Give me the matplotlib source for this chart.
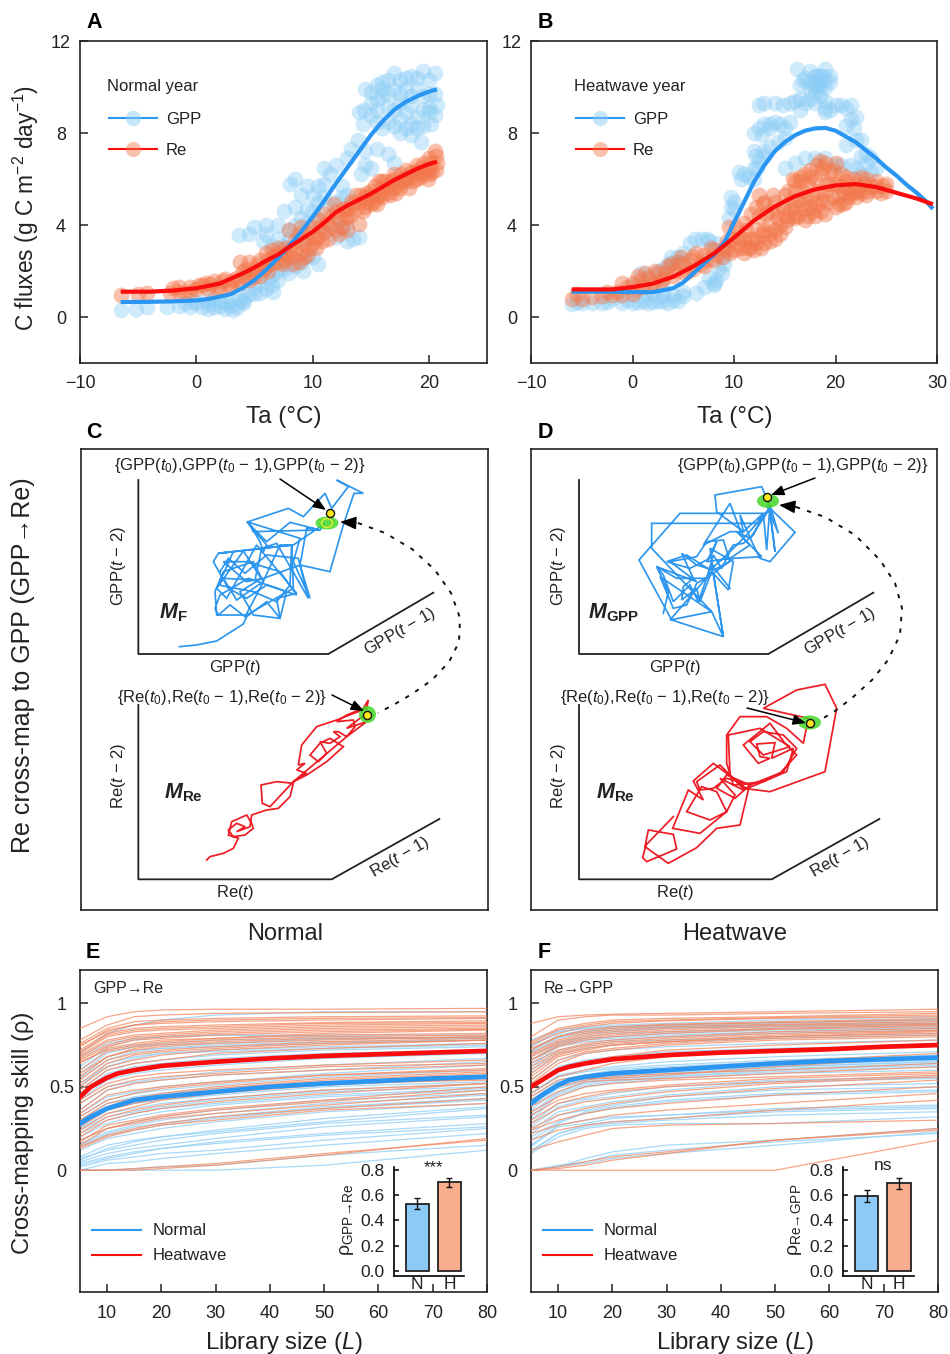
import numpy as np
import matplotlib
matplotlib.use("Agg")
import matplotlib.pyplot as plt
from matplotlib.lines import Line2D
from matplotlib.patches import Ellipse

plt.rcParams["font.family"] = ["Liberation Sans", "DejaVu Sans"]
plt.rcParams["mathtext.fontset"] = "custom"
plt.rcParams["mathtext.rm"] = "Liberation Sans"
plt.rcParams["mathtext.it"] = "Liberation Sans:italic"
plt.rcParams["mathtext.bf"] = "Liberation Sans:bold:italic"
plt.rcParams["mathtext.sf"] = "Liberation Sans:bold"
plt.rcParams["text.color"] = "#222222"
plt.rcParams["axes.labelcolor"] = "#222222"
plt.rcParams["xtick.labelcolor"] = "#222222"
plt.rcParams["ytick.labelcolor"] = "#222222"

W, H = 950, 1354

# panel A
a_gpp_pts = [(14.5,9.9),(15,9.8),(15.5,10.1),(16,10.2),(16.5,10.3),(17,10.6),(17.5,10.3),(18,10.4),(18.5,10.5),
             (19,10.4),(19.5,10.7),(20,10.3),(20.5,10.6),(15,9.3),(16,9.6),(17,9.9),(18,9.9),(19,9.9),(20,9.7),
             (20.7,9.2),(20.5,8.8),(19.5,9.0),(18.5,9.2),(17.5,9.3),(16.5,9.1),(15.5,9.0),(14.4,9.0),(14,8.9),
             (14.3,8.4),(15.5,8.5),(16.5,8.5),(17.5,8.6),(18.5,8.4),(19.5,8.3),(20.2,8.4),(17.5,8.0),(18.5,7.9),
             (19.3,7.6),(13.9,7.7),(13.3,7.3),(14.5,7.2),(15.5,7.3),(16.5,7.1),(17,6.7),(13,6.9),(14.5,6.6),
             (14.2,6.2),(15,6.5),(11,6.5),(12,6.6),(11.5,6.2),(12.5,5.7),(8.5,6.0),(8.1,5.8),(9.5,5.7),(10.5,5.7),
             (11,5.8),(13,5.3),(9,5.3),(10,5.3),(11,5.2),(8.5,4.8),(9.5,4.7),(12,5.0),(7.5,4.6),(9,4.3),(7,4.0),
             (6,4.0),(5,3.9),(3.7,3.55),(4.5,3.6),(6,3.6),(7,3.4),(8,3.8),(13.5,3.4),(14,3.5),(13,3.3),(12,3.5),
             (9,3.3),(10.5,2.3),(10,2.6),(9.2,2.0),(8,1.9),(7.5,2.1),(6.5,1.4),(6.6,1.1),(6.5,1.8),(5,1.3),(5,1.0),
             (4,0.7),(-6.5,0.3),(-5.2,0.35),(-4.2,0.45),(-2.5,0.45),(-1.5,0.5),(-0.5,0.45),(0.5,0.45),(1,0.55),
             (1.5,0.45),(2.5,0.35),(3,0.5),(3.5,0.45),(4,0.6),(4.2,0.85),(3,0.75),(2,0.7),(0,0.6),
             (16,9.9),(16.5,9.7),(17.5,9.7),(18.5,9.6),(19.5,9.6),(20,9.1),(17,9.0),(18,8.9),(19,8.7),(20,8.9),
             (16,8.2),(17,8.3),(18,8.2),(19,8.2),(20.5,9.7),(15,8.8),(15.5,9.5),(2,0.5),(1,0.35),(-1,0.6),(-0.2,0.7),
             (0.8,0.75),(1.5,0.8),(2.6,0.6),(3.2,0.3),(3.7,0.75),(4.5,1.0),(5.5,1.05),(6,1.2),(5.5,1.5),(6.2,1.7),
             (6,2.2),(7,1.6),(7,2.0),(8.5,2.2),(9,2.4),(9.5,2.6),(8,2.3),(5.7,3.3),(6.5,3.1),(7.5,3.1),(8,3.4),(8.5,4.0),
             (9.5,4.1),(10,4.6),(10.5,4.3),(11,3.7),(12,4.1),(12.5,3.9),(13,3.9),(11.5,4.8),(12.5,5.2),(10.5,5.0)]
a_re_pts = [(-6.5,0.95),(-5,1.0),(-4.2,1.05),(-2.3,1.05),(-2,1.25),(-1.5,1.3),(-1,1.05),(-0.5,1.3),(0,1.2),(0.5,1.4),
            (1,1.2),(1.5,1.55),(2,1.3),(2.5,1.65),(3,1.4),(3.5,1.7),(4,2.0),(3.8,2.4),(4.5,2.4),(4.5,1.6),(5,2.1),
            (5.5,2.5),(5.5,1.8),(6,2.8),(6,2.2),(6.5,2.9),(6.5,2.3),(7,3.0),(7,2.4),(7.5,2.5),(8,2.9),(8,3.8),(9,3.9),
            (8.5,3.3),(9,2.8),(9.5,2.7),(9.5,3.4),(10,3.2),(10,3.9),(10.5,3.5),(10.5,4.2),(11,4.5),(11,3.7),(12,4.6),
            (12,3.8),(12.5,3.9),(13,3.8),(13,4.7),(13.5,4.9),(14,5.0),(14,4.05),(14.5,4.8),(15,4.9),(15.5,5.2),(15,5.5),
            (15.7,5.9),(16,5.6),(16.5,5.4),(17,5.6),(17,6.0),(17.5,5.6),(18,6.4),(18,5.9),(18.5,6.3),(19,6.0),(19,6.6),
            (19.5,6.2),(20,6.9),(20,6.4),(20.5,7.2),(20.7,6.7),(20,6.2),
            (-1.5,1.1),(-0.5,1.1),(0.2,1.4),(0.8,1.5),(1.2,1.45),(1.8,1.25),(2.2,1.55),(2.8,1.35),(3.2,1.6),(3.8,1.5),
            (4.2,1.75),(4.8,1.9),(5.2,2.3),(5.8,2.1),(6.2,2.5),(6.8,2.7),(7.2,2.8),(7.8,2.7),(8.2,2.6),(8.5,3.0),(8.8,3.6),
            (9.2,3.2),(9.8,3.0),(10.2,3.5),(10.8,3.3),(11.2,4.1),(11.5,3.9),(11.8,4.9),(12.2,4.3),(12.8,4.3),(13.2,4.4),
            (13.8,4.7),(14.2,5.3),(14.8,5.0),(15.2,5.3),(15.5,4.9),(15.8,5.3),(16.2,5.9),(16.8,5.9),(17.3,5.8),(17.6,6.2),
            (18.2,6.1),(18.8,6.3),(19.2,6.5),(19.8,6.5),(20.2,6.7),(20.6,6.4),
            (4.3,2.1),(5,1.75),(6.2,2.0),(6.6,2.6),(7.4,2.3),(7.6,3.0),(8.3,2.3),(8.8,2.4),(9.3,2.6),(9.7,3.7),(10.3,3.0),
            (10.7,3.9),(11.3,3.4),(11.6,4.4),(12.3,3.6),(12.6,4.7),(13.3,5.0),(13.7,5.3),(14.3,4.6),(14.7,5.4),(15.3,5.0),
            (15.4,5.7),(16,5.2),(16.4,5.7),(16.7,5.3),(17.2,5.4),(17.7,5.9),(18.3,5.6),(18.6,5.9),(19.2,6.1),(19.6,6.7),
            (19.9,6.0),(20.3,6.3),(20.6,7.0),(16,5.9),(17,6.2),(18,6.1),(19,6.3),(14.5,5.2),(13,4.4)]
a_gpp_x = [-6.5,-4,-2,0,1,2,3,4,5,6,7,8,9,10,11,12,13,14,15,16,17,18,19,20,20.7]
a_gpp_y = [.65,.66,.68,.72,.78,.88,1.0,1.27,1.6,2.05,2.55,3.1,3.7,4.35,5.05,5.8,6.5,7.2,7.9,8.5,9.0,9.35,9.6,9.8,9.9]
a_re_x = [-6.5,-4,-2,0,2,4,5,6,7,8,9,10,11,12,13,14,15,16,17,18,19,20,20.7]
a_re_y = [1.1,1.1,1.15,1.25,1.45,1.9,2.15,2.45,2.7,3.05,3.37,3.7,4.1,4.55,4.85,5.1,5.35,5.65,5.95,6.2,6.45,6.65,6.75]

# panel B
b_gpp_pts = [(-6,.55),(-5,.6),(-3,.6),(-1,.6),(0,.6),(1,.7),(2,.65),(3,.7),(3.5,.6),(4,.75),(5,.9),(6.3,1.05),(7,1.3),
             (8,1.5),(8.2,1.6),(8.8,1.9),(9,2.3),(-2,.8),(0,1.4),(.8,1.9),(1.5,1.8),(2.5,2.0),(3,2.1),(4,2.4),(4.5,2.6),
             (5,2.4),(5.7,3.2),(6.8,3.4),(7.5,3.3),(8.2,3.2),(9,3.0),(9.7,4.8),(9.7,5.2),(10,4.7),(10.5,6.3),(11,6.2),
             (12,6.0),(12,6.5),(12.3,6.5),(12.2,7.0),(12.5,6.8),(13,7.2),(12,8.0),(12.5,8.2),(13,8.4),(13.5,8.4),(14,8.5),
             (14.5,8.4),(15.5,8.5),(14.3,7.6),(15,7.8),(12.5,9.2),(14,9.3),(15.5,9.3),(16,9.4),(16.5,9.5),(17,9.3),(18,9.3),
             (19,9.4),(20,9.2),(21,9.1),(21.5,9.2),(22,8.7),(19,8.9),(19.5,9.0),(16.2,10.8),(17,10.4),(16.5,10.1),(17.5,10.7),
             (18,10.5),(18.3,10.2),(18.5,10.0),(19,10.8),(19.5,10.5),(18,9.8),(17.5,9.9),(19,10.3),(18.5,10.5),(18.2,10.5),
             (21,8.3),(21.8,8.2),(22,7.7),(21,7.5),(22.5,7.7),(23,7.1),(23.5,6.9),(24,6.5),(20.5,6.6),(22,6.5),(17,6.9),
             (16,6.7),(15,6.5),
             (-5.5,.65),(-4,.6),(-2.5,.65),(-.5,.75),(.5,.65),(1.5,.6),(2.5,.7),(3,.9),(4,.95),(4.5,.7),(5,1.1),(1.2,1.0),
             (2,1.0),(3,1.2),(3.5,2.3),(3.8,2.6),(5,2.8),(6.2,3.4),(7.5,1.7),(7.3,3.4),(8,1.4),(9,2.6),(8.5,2.1),(9.5,4.3),
             (10,5.0),(10.7,6.0),(11.5,6.1),(12,7.2),(13,7.0),(13.5,7.4),(12.8,7.9),(13.5,8.2),(15,8.2),(13,9.3),(14.8,9.2),
             (16.5,9.0),(17.5,9.5),(18.5,9.6),(19,9.1),(20.5,9.2),(21.5,8.6),(16.8,10.3),(17.5,10.2),(18,10.1),(18.5,10.2),
             (19,10.0),(19.5,10.2),(18.8,10.5),(18.2,10),(22.5,7.0),(23,6.7),(23.5,6.3),(21.5,6.6),(22.5,6.2),(18,6.9),(19,6.9),(20,6.6)]
b_re_pts = [(-6,.8),(-5,.8),(-3,.9),(-2,.95),(-1,.95),(0,1.0),(-1,1.5),(0,1.5),(.5,1.8),(1,1.3),(1.5,1.7),(2,1.5),(2.5,1.9),
            (3,1.65),(3.5,2.2),(4,1.8),(4.5,2.4),(5,2.3),(5.5,2.0),(6,2.6),(6,2.1),(7,2.7),(7,2.2),(8,2.9),(8,2.5),(9,3.0),
            (9.5,3.9),(10,2.9),(11,2.8),(12,2.9),(10.5,3.5),(11.5,3.4),(12.5,4.4),(13,3.2),(13.5,3.3),(14,3.4),(14.5,3.6),
            (14.5,4.0),(13,3.8),(13,5.0),(14,5.0),(12.5,5.3),(15,4.4),(15,5.3),(16,4.3),(16,5.5),(16.5,5.9),(17,4.2),(17,6.2),
            (17.5,6.4),(18,4.4),(18,5.0),(18,6.0),(18.5,6.8),(19,6.7),(19,4.5),(19,5.5),(19.5,6.3),(20,4.8),(20,5.8),(20,6.7),
            (21,5.0),(21,5.6),(21,6.1),(22,5.2),(22,5.8),(22.5,6.1),(23,5.3),(23,6.0),(24,5.5),(24,5.9),(25,5.5),(25,5.8),
            (16,4.8),(17.5,4.8),(15.5,5.0),
            (-5.5,1),(-4,.85),(-2.5,1.1),(-1.5,1.1),(-.5,1.3),(.3,1.2),(.8,1.6),(1.2,1.9),(1.8,1.35),(2.2,2),(2.8,1.55),
            (3.2,1.9),(3.8,2.3),(4.2,2.0),(4.8,2.6),(5.2,1.9),(5.8,2.5),(6.3,2.8),(6.7,2.3),(7.3,2.5),(7.7,3.0),(8.3,2.7),
            (8.8,2.6),(9.3,3.3),(9.6,2.8),(10.2,3.9),(10.6,3.0),(11,4.1),(11.3,3.0),(11.7,4.5),(12,3.4),(12.3,3.8),(12.7,3.0),
            (13.2,4.5),(13.5,4.0),(13.8,5.3),(14.2,4.6),(14.8,4.8),(15,3.9),(15.5,4.6),(15.3,5.5),(15.8,6.0),(16.3,5.1),
            (16.8,5.5),(17,4.7),(17.3,5.8),(17.7,5.3),(18.3,5.5),(18.6,4.6),(18.6,6.2),(19.3,5.0),(19.5,5.8),(20.3,5.3),
            (20.5,6.2),(20.7,4.9),(21.5,5.4),(21.8,6.0),(22.3,5.5),(22.8,5.8),(23.5,5.7),(24.5,5.4),
            (9.2,2.9),(9.8,3.4),(10.4,3.2),(11,3.4),(11.6,3.0),(12.2,3.2),(12.8,3.6),(13.4,3.6),(14,3.8),(14.3,4.3),(13.6,4.6),
            (12.9,4.9),(12.2,4.8),(11.2,3.8),(15.2,4.2),(15.8,4.4),(16.3,4.4),(16.7,4.9),(17.3,4.4),(17.8,4.6),(18.3,4.9),
            (18.8,5.1),(19.2,5.8),(19.7,5.2),(20.3,4.9),(20.4,5.7),(20.8,5.4),(21.3,5.2),(21.8,5.5),(22.5,5.4),(23.2,5.5),
            (24,5.7),(16.5,6.1),(17.5,6.1),(18.2,6.6),(18.8,6.5),(19.8,6.4),(16,5.9),(17,5.2),(21,5.9),(24.7,5.7)]
b_gpp_x = [-6,-4,-2,0,2,4,5,6,7,8,9,10,11,12,13,14,15,16,17,18,19,20,21,22,23,24,25,26,27,28,29,29.6]
b_gpp_y = [1.1,1.1,1.1,1.08,1.08,1.25,1.5,1.9,2.3,2.7,3.2,4.1,5.0,5.9,6.6,7.2,7.6,7.9,8.1,8.2,8.22,8.1,7.85,7.6,7.25,6.9,6.5,6.15,5.75,5.4,5.0,4.7]
b_re_x = [-6,-2,0,2,4,6,8,9,10,12,14,16,18,20,22,24,26,28,29.6]
b_re_y = [1.2,1.2,1.3,1.45,1.75,2.2,2.75,3.1,3.45,4.2,4.8,5.25,5.55,5.72,5.78,5.65,5.4,5.15,4.9]

# panels C and D, traced in crop coordinates (3x, origin at the top left of the crop)
mf_path = [(298,605),(350,600),(410,588),(490,537),(500,515),(560,470),(600,520),(620,440),(505,400),(420,450),(405,490),
           (415,510),(450,480),(495,515),(540,430),(600,300),(635,300),(630,420),(590,470),(520,440),(415,420),(460,320),
           (415,325),(400,350),(445,430),(500,460),(560,420),(650,450),(600,380),(500,350),(430,350),(500,410),(550,400),
           (660,360),(690,460),(640,350),(660,280),(500,230),(560,300),(550,320),(540,290),(505,230),(625,190),(670,215),
           (735,145),(755,190),(805,125),(770,105),(850,145),(822,145),(790,240),(750,380),(660,360),(680,250),(695,250),
           (720,255),(630,232),(560,290),(510,240),(520,260),(720,255),(735,235),(640,300),(415,325),(635,300),(640,430),
           (500,510),(410,510),(405,440),(430,380),(520,350),(545,400),(480,440),(520,510),(600,520),(590,460),(650,445),
           (530,300),(440,460),(410,430),(490,318),(550,410),(470,465),(430,400),(525,405),(545,310),(590,295),(685,460),
           (655,340),(560,330),(495,385),(445,340),(420,380)]
mre_n_path = [(380,555),(390,545),(430,535),(460,520),(475,490),(445,480),(455,440),(500,420),(515,445),(520,460),(495,480),
              (460,485),(445,465),(470,445),(495,455),(470,470),(510,455),(515,420),(560,405),(595,400),(630,365),(640,325),
              (590,320),(543,330),(547,385),(570,395),(640,320),(680,295),(650,285),(675,265),(655,270),(665,210),(710,155),
              (770,135),(860,100),(865,75),(850,100),(800,120),(770,140),(820,135),(825,155),(800,185),(775,170),(760,170),
              (780,185),(750,205),(720,200),(740,235),(715,260),(690,240),(720,205),(750,190),(790,215),(740,260),(680,300),
              (640,320),(800,185),(860,140),(800,160),(860,115)]
mgpp_path = [(400,505),(415,440),(380,365),(500,410),(420,350),(500,335),(530,290),(580,285),(600,350),(550,375),(500,360),
             (455,325),(490,400),(460,425),(455,465),(500,430),(510,470),(545,380),(595,435),(610,350),(540,310),(545,345),
             (550,375),(420,525),(545,500),(390,395),(430,490),(470,480),(500,415),(550,385),(580,575),(550,385),(610,340),
             (695,335),(640,280),(600,175),(555,245),(520,300),(600,260),(640,260),(630,210),(670,300),(690,340),(720,350),
             (795,262),(710,180),(745,265),(720,180),(710,315),(700,205),(450,205),(327,345),(425,525),(580,575),(545,500),
             (365,310),(365,235),(680,235),(700,205),(640,260),(560,200),(555,150),(695,125),(715,170),(735,320),(720,190),
             (660,280),(620,260),(660,300),(600,340),(530,350),(560,290),(540,340),(480,370),(410,350),(470,330),(540,375),
             (590,330),(610,300),(640,295),(670,270),(700,210),(720,190),(650,270),(600,320),(575,370),(550,330),(530,400),
             (500,400),(440,400),(380,365),(400,390),(430,470),(480,420),(505,470),(530,400),(545,360),(600,430)]
mre_h_path = [(430,425),(348,510),(338,548),(350,560),(440,522),(430,478),(355,465),(345,515),(415,565),(500,518),(560,460),
              (630,450),(655,345),(610,310),(550,265),(490,318),(520,375),(475,345),(428,460),(510,475),(590,410),(560,350),
              (515,335),(470,410),(540,435),(590,410),(615,360),(570,310),(640,345),(700,320),(750,295),(800,240),(765,205),
              (720,145),(640,210),(685,265),(720,250),(690,245),(680,207),(735,203),(725,250),(790,220),(770,290),(700,320),
              (610,330),(590,265),(590,180),(630,125),(710,125),(770,160),(820,205),(835,130),(700,100),(800,45),(885,28),
              (920,100),(885,290),(720,350),(640,340),(600,300),(595,180),(690,160),(780,215),(700,240),(660,200),(700,170),
              (760,180),(800,220),(760,290),(660,330),(590,300),(560,340),(615,370),(660,330),(590,310),(550,340),(510,345),
              (500,320),(570,270),(620,320),(640,340)]
arc_c = [(358,523),(385,533),(412,549),(435,570),(451,593),(460,618),(459,642),(449,662),(432,680),(412,694),(395,704),(378,713)]
arc_d = [(796,507),(825,517),(855,535),(880,560),(895,583),(902,608),(900,635),(888,660),(872,680),(852,698),(835,711),(822,719)]

# panels E and F: library sizes and rho of the single pixels
lib_knots = [5,10,15,20,30,50,80]
lib_mean = [5,7,10,12,15,20,30,40,50,60,70,80]
e_heat_mean = [.44,.50,.555,.58,.60,.625,.65,.67,.685,.695,.705,.715]
e_norm_mean = [.28,.32,.37,.39,.42,.44,.47,.50,.52,.535,.55,.56]
f_heat_mean = [.50,.54,.60,.62,.64,.665,.69,.705,.715,.725,.74,.75]
f_norm_mean = [.40,.45,.51,.54,.56,.58,.60,.62,.64,.655,.665,.675]
e_heat = [[.85,.92,.95,.96,.965,.965,.97],[.78,.87,.92,.93,.94,.945,.95],[.76,.85,.89,.90,.91,.92,.925],
          [.74,.84,.87,.88,.89,.90,.91],[.72,.82,.85,.86,.87,.885,.895],[.70,.80,.83,.84,.85,.87,.88],
          [.68,.77,.80,.81,.83,.85,.86],[.66,.74,.78,.79,.81,.83,.845],[.64,.73,.76,.78,.79,.81,.82],
          [.60,.71,.74,.76,.78,.80,.81],[.56,.68,.72,.74,.76,.78,.80],[.52,.64,.69,.71,.73,.76,.78],
          [.48,.60,.64,.66,.70,.73,.76],[.42,.52,.56,.58,.60,.63,.66],[.36,.48,.52,.54,.57,.60,.63],
          [.32,.42,.46,.49,.52,.57,.61],[.28,.38,.43,.46,.50,.55,.59],[.24,.34,.38,.42,.46,.51,.55],
          [.20,.30,.34,.37,.41,.46,.52],[.17,.27,.30,.33,.37,.42,.50],[.14,.21,.25,.28,.32,.37,.43],
          [0,0,0,.01,.03,.09,.19],[0,0,.01,.02,.04,.10,.18],
          [.75,.83,.87,.89,.90,.91,.915],[.71,.81,.84,.85,.86,.88,.885],[.69,.78,.81,.82,.84,.86,.87],
          [.67,.75,.79,.80,.82,.84,.85],[.65,.72,.75,.77,.79,.82,.84],[.58,.68,.73,.75,.77,.79,.80],
          [.54,.66,.70,.72,.74,.77,.79],[.50,.62,.66,.69,.72,.75,.78],[.40,.50,.54,.56,.58,.62,.64],
          [.34,.45,.48,.50,.53,.57,.60],[.30,.40,.43,.45,.49,.54,.58],[.26,.36,.40,.43,.47,.52,.54],
          [.22,.32,.36,.39,.43,.48,.52],[.18,.25,.29,.32,.36,.41,.48],[.15,.25,.28,.31,.34,.39,.46],
          [.13,.20,.24,.27,.30,.36,.40]]
e_norm = [[.70,.82,.87,.90,.93,.95,.95],[.62,.74,.78,.80,.81,.81,.81],[.58,.70,.74,.75,.76,.785,.80],
          [.55,.66,.71,.73,.75,.77,.78],[.52,.62,.67,.70,.72,.74,.76],[.48,.60,.64,.66,.69,.72,.74],
          [.44,.56,.60,.62,.65,.69,.71],[.40,.50,.53,.55,.59,.63,.67],[.34,.44,.47,.50,.53,.58,.63],
          [.30,.40,.44,.46,.49,.53,.57],[.26,.36,.40,.42,.45,.50,.53],[.24,.32,.35,.38,.42,.47,.50],
          [.20,.28,.32,.35,.39,.44,.48],[.18,.25,.29,.32,.36,.42,.46],[.15,.22,.26,.28,.32,.38,.43],
          [.12,.19,.22,.25,.29,.35,.40],[.06,.13,.17,.20,.24,.31,.38],[.05,.10,.13,.15,.19,.26,.32],
          [.03,.07,.10,.13,.17,.22,.28],[.02,.06,.08,.10,.12,.18,.25],[0,.04,.05,.07,.10,.15,.22],
          [0,0,.01,.02,.03,.09,.15],[0,0,0,0,0,.03,.12],
          [.68,.76,.79,.80,.81,.80,.79],[.60,.72,.75,.76,.78,.79,.79],[.56,.68,.72,.73,.74,.76,.78],
          [.50,.64,.68,.70,.71,.73,.75],[.46,.58,.62,.64,.67,.70,.72],[.42,.54,.58,.60,.63,.67,.70],
          [.36,.48,.52,.54,.57,.60,.65],[.32,.42,.46,.48,.51,.56,.60],[.28,.38,.42,.44,.47,.51,.55],
          [.25,.34,.37,.40,.43,.48,.52],[.22,.30,.34,.37,.40,.45,.49],[.16,.23,.27,.30,.34,.40,.45],
          [.14,.21,.24,.27,.31,.37,.42],[.08,.15,.18,.20,.23,.29,.37],[.07,.12,.15,.18,.22,.28,.33],
          [.04,.08,.11,.13,.16,.21,.26]]
f_heat = [[.88,.92,.93,.935,.94,.95,.965],[.80,.90,.92,.93,.93,.94,.95],[.77,.85,.88,.90,.91,.92,.94],
          [.75,.82,.86,.88,.895,.91,.92],[.73,.80,.84,.86,.875,.89,.91],[.70,.78,.82,.84,.86,.875,.89],
          [.68,.76,.80,.82,.84,.86,.875],[.66,.74,.78,.80,.82,.845,.86],[.64,.72,.76,.78,.80,.83,.85],
          [.60,.70,.74,.76,.78,.81,.835],[.56,.68,.72,.75,.77,.80,.82],[.52,.64,.70,.72,.75,.78,.80],
          [.46,.56,.60,.64,.68,.72,.76],[.42,.52,.55,.55,.57,.62,.68],[.38,.47,.53,.54,.55,.58,.62],
          [.35,.44,.50,.52,.54,.56,.59],[.30,.40,.44,.47,.50,.53,.57],[.25,.33,.37,.40,.44,.49,.54],
          [.22,.27,.30,.33,.36,.40,.46],[.18,.24,.27,.29,.31,.36,.42],[.12,.17,.21,.25,.27,.28,.30],
          [0,.02,.05,.08,.11,.18,.24],[0,.01,.03,.06,.10,.18,.25],[0,0,0,0,0,0,.18],
          [.76,.84,.87,.89,.90,.915,.93],[.72,.80,.83,.85,.87,.885,.90],[.69,.77,.81,.83,.85,.87,.88],
          [.66,.75,.79,.81,.83,.85,.87],[.62,.71,.75,.77,.79,.82,.84],[.58,.69,.73,.75,.77,.80,.83],
          [.54,.66,.71,.73,.76,.79,.81],[.50,.60,.65,.68,.72,.75,.78],[.44,.54,.57,.58,.61,.65,.70],
          [.40,.50,.54,.56,.58,.60,.64],[.33,.42,.46,.48,.51,.55,.58],[.28,.37,.41,.43,.47,.52,.56],
          [.24,.30,.34,.37,.40,.45,.50]]
f_norm = [[.78,.84,.86,.87,.88,.90,.92],[.75,.83,.85,.86,.87,.885,.905],[.72,.81,.84,.85,.86,.87,.89],
          [.70,.79,.82,.83,.85,.86,.875],[.66,.76,.79,.80,.82,.84,.855],[.62,.74,.77,.78,.80,.82,.84],
          [.58,.70,.73,.75,.77,.79,.81],[.54,.66,.70,.72,.74,.76,.78],[.50,.62,.66,.68,.71,.73,.75],
          [.46,.57,.60,.62,.65,.68,.71],[.42,.53,.56,.59,.61,.64,.67],[.38,.50,.54,.56,.58,.62,.65],
          [.34,.47,.52,.54,.56,.60,.63],[.30,.45,.50,.52,.55,.58,.60],[.26,.38,.42,.44,.48,.53,.55],
          [.22,.33,.36,.39,.44,.48,.50],[.18,.28,.35,.38,.42,.46,.48],[.15,.27,.30,.32,.33,.37,.39],
          [.12,.22,.27,.29,.31,.35,.37],[.10,.20,.25,.27,.28,.28,.32],[0,.02,.07,.11,.15,.18,.25],
          [0,.03,.05,.09,.12,.17,.22],[0,.02,.04,.07,.10,.15,.23],
          [.74,.83,.85,.86,.865,.88,.90],[.71,.80,.83,.84,.855,.865,.88],[.68,.77,.80,.82,.83,.85,.865],
          [.64,.75,.78,.79,.81,.83,.85],[.60,.72,.75,.77,.78,.80,.82],[.46,.56,.59,.61,.63,.66,.69],
          [.44,.54,.57,.60,.62,.65,.68],[.42,.52,.55,.58,.60,.63,.66],[.40,.51,.55,.57,.59,.62,.65],
          [.36,.49,.53,.55,.57,.61,.64],[.32,.46,.51,.53,.56,.59,.62],[.28,.40,.43,.46,.50,.54,.56],
          [.24,.35,.38,.41,.45,.50,.52],[.20,.29,.34,.37,.41,.45,.47],[.14,.26,.28,.31,.33,.36,.38],
          [.11,.22,.26,.28,.30,.33,.35]]

# insets
bar_labels = ["N", "H"]
e_bar = [.53, .70]
e_err = [.045, .035]
f_bar = [.59, .69]
f_err = [.05, .04]

BLUE = "#2a96f2"
RED = "#f90c0c"
DOT_BLUE = "#8ccdf6"
DOT_RED = "#f3774a"
BAR_BLUE = "#8bcbf5"
BAR_RED = "#f8ae8c"

fig = plt.figure(figsize=(W / 100, H / 100), dpi=100)


def add_axes(left, top, right, bottom):
    return fig.add_axes([left / W, 1 - bottom / H, (right - left) / W, (bottom - top) / H])


def ftext(x, y, s, **kw):
    kw.setdefault("ha", "center")
    kw.setdefault("va", "center")
    fig.text(x / W, 1 - y / H, s, **kw)


def style(ax, pad_y=13.5):
    for s in ax.spines.values():
        s.set_linewidth(1.2)
        s.set_color("#222222")
    ax.tick_params(direction="in", length=5.8, width=1.1, labelsize=13, color="#222222")
    ax.tick_params(axis="x", pad=9)
    ax.tick_params(axis="y", pad=pad_y)
    for lab in ax.get_yticklabels():
        lab.set_ha("center")


def flux_panel(ax, gpp_pts, re_pts, gpp_x, gpp_y, re_x, re_y, xlim, xticks, title, anchor):
    g = np.array(gpp_pts)
    r = np.array(re_pts)
    ax.scatter(g[:, 0], g[:, 1], s=130, color=DOT_BLUE, alpha=0.42, linewidths=0, zorder=2)
    ax.scatter(r[:, 0], r[:, 1], s=130, color=DOT_RED, alpha=0.45, linewidths=0, zorder=3)
    ax.plot(gpp_x, gpp_y, color=BLUE, lw=3, zorder=4, solid_capstyle="butt")
    ax.plot(re_x, re_y, color=RED, lw=3, zorder=5, solid_capstyle="butt")
    ax.set_xlim(*xlim)
    ax.set_ylim(-2, 12)
    ax.set_xticks(xticks)
    ax.set_yticks([0, 4, 8, 12])
    style(ax, 13.8)
    handles = [Line2D([], [], color=BLUE, lw=1.5, marker="o", ms=11, mfc=(0.55, 0.8, 0.96, 0.5), mec="none"),
               Line2D([], [], color=RED, lw=1.5, marker="o", ms=11, mfc=(0.95, 0.47, 0.29, 0.45), mec="none")]
    leg = ax.legend(handles, ["GPP", "Re"], title=title, loc="upper left", bbox_to_anchor=anchor, frameon=False,
                    fontsize=12, title_fontsize=12, alignment="left", handlelength=2.85, handletextpad=0.55,
                    labelspacing=0.95, borderpad=0, borderaxespad=0)
    leg.get_title().set_position((-2, 0))
    leg._legend_box.sep = 13


def embedding(ax, crop, path, color, axis_pts):
    ox, oy = crop
    p = np.array(path, dtype=float)
    ax.plot(ox + p[:, 0] / 3, oy + p[:, 1] / 3, color=color, lw=1.25, zorder=3, solid_joinstyle="miter")
    a = np.array(axis_pts, dtype=float)
    ax.plot(ox + a[:, 0] / 3, oy + a[:, 1] / 3, color="#222222", lw=1.3, zorder=2)


def mark_point(ax, x, y, gx, gy, gw, gh):
    ax.add_patch(Ellipse((gx, gy), gw, gh, color="#44d828", alpha=0.85, lw=0, zorder=4))
    ax.scatter([x], [y], s=34, color="#ffe81a", edgecolors="#111111", linewidths=1, zorder=7)


def arrow(ax, start, tip, scale=11):
    ax.annotate("", xy=tip, xytext=start, zorder=6,
                arrowprops=dict(arrowstyle="-|>,head_length=0.7,head_width=0.28", color="black", lw=1.1,
                                mutation_scale=scale, shrinkA=0, shrinkB=0))


def skill_panel(ax, norm, heat, norm_mean, heat_mean, tag):
    for row in norm:
        ax.plot(lib_knots, row, color="#9ad3f7", lw=0.9, alpha=0.85, zorder=2)
    for row in heat:
        ax.plot(lib_knots, row, color="#f3875f", lw=0.9, alpha=0.75, zorder=3)
    ax.plot(lib_mean, norm_mean, color=BLUE, lw=3.4, zorder=5)
    ax.plot(lib_mean, heat_mean, color=RED, lw=3.4, zorder=6)
    ax.set_xlim(5, 80)
    ax.set_ylim(-0.73, 1.2)
    ax.set_xticks(range(10, 81, 10))
    ax.set_yticks([0, 0.5, 1])
    ax.set_yticklabels(["0", "0.5", "1"])
    style(ax, 13.5)
    ax.text(0.032, 0.944, tag, transform=ax.transAxes, fontsize=11.5, va="center")
    handles = [Line2D([], [], color=BLUE, lw=1.5), Line2D([], [], color=RED, lw=1.5)]
    ax.legend(handles, ["Normal", "Heatwave"], loc="upper left", bbox_to_anchor=(0.03, 0.213), frameon=False,
              fontsize=12, handlelength=2.9, handletextpad=0.75, labelspacing=0.6, borderpad=0, borderaxespad=0)


def inset(left, bottom, right, vals, errs, mark, mark_x, mark_y, mark_size, ylab, ylab_x):
    ax = add_axes(left, 1167, right, bottom)
    ax.patch.set_alpha(0)
    ax.bar([0, 1], vals, width=0.72, color=[BAR_BLUE, BAR_RED], edgecolor="#222222", linewidth=1.3,
           yerr=errs, error_kw=dict(ecolor="#111111", elinewidth=1, capsize=2.5, capthick=1))
    ax.set_xlim(-0.72, 1.45)
    ax.set_ylim(-0.04, 0.82)
    ax.set_xticks([0, 1])
    ax.set_xticklabels(bar_labels)
    ax.set_yticks([0, 0.2, 0.4, 0.6, 0.8])
    ax.set_yticklabels(["0.0", "0.2", "0.4", "0.6", "0.8"])
    ax.spines["top"].set_visible(False)
    ax.spines["right"].set_visible(False)
    for s in ("left", "bottom"):
        ax.spines[s].set_linewidth(1.2)
    ax.tick_params(axis="x", length=0, labelsize=12.5, pad=1)
    ax.tick_params(axis="y", direction="in", length=3.5, width=1.1, labelsize=12.5, pad=7)
    ftext(mark_x, mark_y, mark, fontsize=mark_size)
    ftext(ylab_x, 1220, ylab, rotation=90, fontsize=14)


# A, B
ax_a = add_axes(80, 41, 487, 363)
flux_panel(ax_a, a_gpp_pts, a_re_pts, a_gpp_x, a_gpp_y, a_re_x, a_re_y, (-10, 25), [-10, 0, 10, 20], "Normal year", (0.072, 0.882))
ax_b = add_axes(531, 41, 937, 363)
flux_panel(ax_b, b_gpp_pts, b_re_pts, b_gpp_x, b_gpp_y, b_re_x, b_re_y, (-10, 30), [-10, 0, 10, 20, 30], "Heatwave year", (0.111, 0.882))

# C, D are drawn on axes whose units are the pixels of the figure
ax_c = add_axes(81, 449, 488, 910)
ax_d = add_axes(531, 449, 937, 910)
ax_c.set_xlim(81, 488)
ax_c.set_ylim(910, 449)
ax_d.set_xlim(531, 937)
ax_d.set_ylim(910, 449)
for ax in (ax_c, ax_d):
    ax.set_xticks([])
    ax.set_yticks([])
    for s in ax.spines.values():
        s.set_linewidth(1.2)
        s.set_color("#222222")

embedding(ax_c, (80, 445), mf_path, "#2f97ee", [(175,105),(175,627),(745,627),(1060,443)])
embedding(ax_c, (80, 675), mre_n_path, "#ee1c25", [(175,90),(175,613),(755,613),(1078,432)])
embedding(ax_d, (530, 445), mgpp_path, "#2f97ee", [(147,105),(147,627),(715,627),(1030,443)])
embedding(ax_d, (530, 675), mre_h_path, "#ee1c25", [(147,90),(147,613),(725,613),(1048,432)])

mark_point(ax_c, 330, 513, 327, 523, 23, 13)
ax_c.add_patch(Ellipse((327, 523), 11, 9, fill=False, ec="#e8ef30", lw=1, zorder=5))
mark_point(ax_c, 367.5, 714.5, 367.5, 714.5, 17, 17)
mark_point(ax_d, 766.5, 497, 768, 501, 22, 14)
mark_point(ax_d, 809.5, 722.5, 809.5, 722.5, 23, 14)

for ax, arc in ((ax_c, arc_c), (ax_d, arc_d)):
    c = np.array(arc)
    ax.plot(c[:, 0], c[:, 1], color="#111111", lw=1.4, dashes=(2.2, 3.8), zorder=6)
arrow(ax_c, (280, 479), (326, 510))
arrow(ax_c, (356, 523), (340, 522), 14)
arrow(ax_c, (332, 695), (364, 711))
arrow(ax_d, (815, 478), (771, 495))
arrow(ax_d, (796, 507), (779, 505), 14)
arrow(ax_d, (747, 708), (806, 723))

sch = 12
for ax, x, y, name in ((ax_c, 240, 465, "GPP"), (ax_d, 803, 465, "GPP"), (ax_c, 222, 697, "Re"), (ax_d, 665, 697, "Re")):
    t0 = r"$\mathit{t}_{0}$"
    ax.text(x, y, "{%s(%s),%s(%s − 1),%s(%s − 2)}" % (name, t0, name, t0, name, t0), ha="center", va="center", fontsize=sch, zorder=8)

for ax, dx, name, yo in ((ax_c, 0, "GPP", 0), (ax_d, 440, "GPP", 0), (ax_c, 0, "Re", 225), (ax_d, 440, "Re", 225)):
    ax.text(235 + dx, 667 + yo, name + r"($\mathit{t}$)", ha="center", va="center", fontsize=sch)
    ax.text(119 + dx, 566 + yo - (15 if name == "Re" else 0), name + r"($\mathit{t}$ − 2)", ha="center", va="center", fontsize=sch, rotation=90)
    ax.text(400 + dx, 630 + yo + 2, name + r"($\mathit{t}$ − 1)", ha="center", va="center", fontsize=sch, rotation=30)

ax_c.text(173, 613, r"$\mathbf{M}_{\mathsf{F}}$", ha="center", va="center", fontsize=15.5)
ax_c.text(183, 793, r"$\mathbf{M}_{\mathsf{Re}}$", ha="center", va="center", fontsize=15.5)
ax_d.text(614, 613, r"$\mathbf{M}_{\mathsf{GPP}}$", ha="center", va="center", fontsize=15.5)
ax_d.text(615, 793, r"$\mathbf{M}_{\mathsf{Re}}$", ha="center", va="center", fontsize=15.5)

# E, F
ax_e = add_axes(80, 970, 487, 1292)
skill_panel(ax_e, e_norm, e_heat, e_norm_mean, e_heat_mean, "GPP→Re")
ax_f = add_axes(531, 970, 938, 1292)
skill_panel(ax_f, f_norm, f_heat, f_norm_mean, f_heat_mean, "Re→GPP")
inset(394, 1276, 464, e_bar, e_err, "***", 433, 1168, 12, r"$\mathregular{ρ}_{\mathregular{GPP→Re}}$", 347)
inset(843, 1276, 914, f_bar, f_err, "ns", 883, 1165, 12.5, r"$\mathregular{ρ}_{\mathregular{Re→GPP}}$", 795)

# figure level text
for x, y, s in ((94, 22, "A"), (545, 22, "B"), (94, 432, "C"), (545, 432, "D"), (93, 952, "E"), (544, 952, "F")):
    ftext(x, y, s, fontsize=15.5, fontweight="bold", color="black")
ftext(26, 208, r"C fluxes (g C m$^{-2}$ day$^{-1}$)", rotation=90, fontsize=16.4)
ftext(23, 665, "Re cross-map to GPP (GPP→Re)", rotation=90, fontsize=18)
ftext(23, 1133, "Cross-mapping skill (ρ)", rotation=90, fontsize=17)
ftext(284, 416.5, "Ta (°C)", fontsize=17.5)
ftext(735, 416.5, "Ta (°C)", fontsize=17.5)
ftext(285, 934, "Normal", fontsize=17)
ftext(735, 934, "Heatwave", fontsize=17)
ftext(284, 1343.5, r"Library size ($\mathit{L}$)", fontsize=17.2)
ftext(735, 1343.5, r"Library size ($\mathit{L}$)", fontsize=17.2)

fig.savefig("out.png", dpi=100)
